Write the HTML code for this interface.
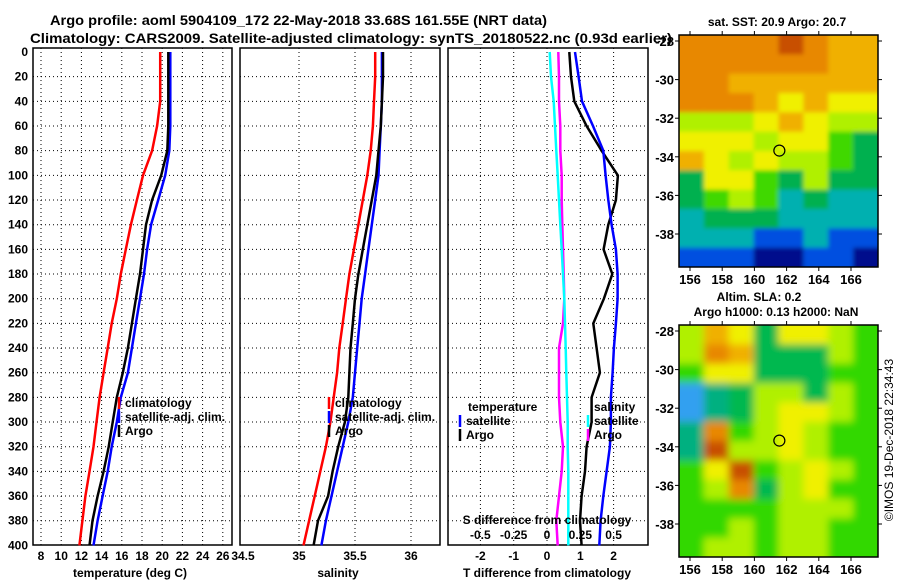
<!DOCTYPE html>
<html><head><meta charset="utf-8">
<style>
body{margin:0;background:#fff;}
svg{display:block;font-family:"Liberation Sans",sans-serif;font-weight:bold;}
</style></head>
<body>
<svg id="chart" width="900" height="580" viewBox="0 0 900 580">
<defs>
<filter id="blurS" x="-5%" y="-5%" width="110%" height="110%"><feGaussianBlur stdDeviation="2"/></filter>
<filter id="blurL" x="-5%" y="-5%" width="110%" height="110%"><feGaussianBlur stdDeviation="4"/></filter>
<clipPath id="clipTop"><rect x="679" y="35" width="199" height="232"/></clipPath>
<clipPath id="clipBot"><rect x="679" y="325" width="199" height="232"/></clipPath>
</defs>
<text x="50" y="25" font-size="13.5" textLength="497" lengthAdjust="spacingAndGlyphs">Argo profile: aoml 5904109_172 22-May-2018 33.68S 161.55E (NRT data)</text>
<text x="30" y="43" font-size="13.5" textLength="642" lengthAdjust="spacingAndGlyphs">Climatology: CARS2009. Satellite-adjusted climatology: synTS_20180522.nc (0.93d earlier)</text>
<g id="plots"></g>
<text x="777" y="26" font-size="12" text-anchor="middle">sat. SST: 20.9 Argo: 20.7</text>
<text x="759" y="301" font-size="12" text-anchor="middle">Altim. SLA: 0.2</text>
<text x="776" y="316" font-size="12" text-anchor="middle">Argo h1000: 0.13 h2000: NaN</text>
<text transform="translate(893,440) rotate(-90)" font-size="12" font-weight="normal" text-anchor="middle">©IMOS 19-Dec-2018 22:34:43</text>
</svg>
<script>
const depths=[0,20,40,60,80,100,120,140,160,180,200,220,240,260,280,300,320,340,360,380,400];
const tempClim=[19.8,19.8,19.8,19.5,19.0,18.1,17.5,16.9,16.4,15.9,15.5,15.0,14.6,14.2,13.8,13.5,13.2,12.8,12.4,12.1,11.8];
const tempSat=[20.8,20.8,20.8,20.8,20.7,20.3,19.6,18.9,18.5,18.2,17.8,17.4,17.0,16.6,15.9,15.5,15.0,14.6,14.1,13.6,13.2];
const tempArgo=[20.6,20.6,20.6,20.6,20.5,19.9,19.0,18.4,18.1,17.8,17.4,17.0,16.6,16.1,15.5,15.1,14.7,14.2,13.6,13.1,12.8];
const salClim=[35.68,35.68,35.67,35.66,35.64,35.61,35.57,35.53,35.49,35.45,35.42,35.39,35.36,35.34,35.31,35.28,35.24,35.19,35.14,35.09,35.04];
const salSat=[35.74,35.74,35.74,35.73,35.72,35.71,35.68,35.65,35.62,35.59,35.56,35.54,35.52,35.50,35.48,35.44,35.39,35.34,35.29,35.24,35.20];
const salArgo=[35.75,35.75,35.74,35.73,35.71,35.69,35.65,35.61,35.57,35.53,35.50,35.48,35.46,35.45,35.44,35.41,35.35,35.30,35.26,35.17,35.13];
const tDiffSat=[0.84,0.95,1.05,1.38,1.69,1.76,1.84,1.94,2.07,2.12,2.12,2.07,2.01,1.97,1.92,1.92,1.89,1.79,1.69,1.61,1.57];
const tDiffArgo=[0.67,0.72,0.82,1.19,1.64,2.13,2.07,1.84,1.70,1.96,1.71,1.39,1.49,1.59,1.34,1.34,1.19,1.14,1.04,0.99,1.04];
const sDiffSat=[0.02,0.03,0.05,0.06,0.07,0.08,0.09,0.10,0.11,0.12,0.13,0.135,0.14,0.145,0.15,0.155,0.155,0.16,0.16,0.16,0.16];
const sDiffArgo=[0.085,0.09,0.09,0.10,0.10,0.11,0.11,0.115,0.12,0.125,0.13,0.12,0.09,0.09,0.09,0.10,0.12,0.11,0.09,0.07,0.08];
const depthTicks=[0,20,40,60,80,100,120,140,160,180,200,220,240,260,280,300,320,340,360,380,400];
const tempTicks=[8,10,12,14,16,18,20,22,24,26];
const salTicks=[34.5,35,35.5,36];
const tDiffTicks=[-2,-1,0,1,2];
const sDiffTicks=[-0.5,-0.25,0,0.25,0.5];
const sstGrid=[
[8,8,8,8,9,8,7,7],[8,8,8,8,8,8,7,7],[8,8,7,7,7,7,7,7],[8,8,8,7,6,7,6,6],
[5,5,5,6,7,6,5,5],[6,6,6,5,6,6,4,3],[7,6,5,6,5,5,4,3],[3,6,6,4,3,5,3,3],
[3,4,5,4,2,3,2,2],[2,3,3,3,2,2,2,2],[2,2,2,1,1,2,1,1],[1,1,1,0,0,1,1,0]];
const slaGrid=[
[5,7,6,3,6,6,5,4],[5,8,7,3,3,3,5,4],[4,6,6,3,3,3,4,4],[1,2,3,5,5,3,5,4],
[1,2,3,5,6,6,5,4],[2,8,4,5,6,5,4,4],[2,9,5,5,6,5,4,4],[4,6,9,4,5,6,5,4],
[4,5,8,3,5,6,4,4],[4,4,4,4,5,5,5,4],[4,4,5,4,5,5,4,4],[4,5,5,4,5,5,4,4]];
const lonTicks=[156,158,160,162,164,166];
const latTicks=[-28,-30,-32,-34,-36,-38];
const argoLon=161.55, argoLat=-33.68;

const NS="http://www.w3.org/2000/svg";
const root=document.getElementById('plots');
function mk(tag,attrs,parent){const e=document.createElementNS(NS,tag);for(const k in attrs)e.setAttribute(k,attrs[k]);(parent||root).appendChild(e);return e;}
const yD=d=>52+d*1.2335;
const PT=48,PB=545;

function panel(name,L,R,xf,gridTicks){
  const g=mk('g',{});
  
  
  gridTicks.forEach(t=>{const l=mk('line',{x1:xf(t),x2:xf(t),y1:PT,y2:PB,stroke:'#000','stroke-width':1,'stroke-dasharray':'1,3'},g);
    
    });
  depthTicks.forEach(d=>{if(d===0||d===400)return;const l=mk('line',{x1:L,x2:R,y1:yD(d),y2:yD(d),stroke:'#000','stroke-width':1,'stroke-dasharray':'1,3'},g);
    
    });
  const r=mk('rect',{x:L,y:PT,width:R-L,height:PB-PT,fill:'none',stroke:'#000','stroke-width':1.5},g);
  
  
  return g;
}
function line(g,vals,xf,col,name){
  const pts=vals.map((v,i)=>xf(v).toFixed(1)+','+yD(depths[i]).toFixed(1)).join(' ');
  const p=mk('polyline',{points:pts,fill:'none',stroke:col,'stroke-width':2.5},g);
  
  
}
function txt(s,x,y,anchor,size,name,parent){const t=mk('text',{x:x,y:y,'text-anchor':anchor||'start','font-size':size||12},parent);t.textContent=s;
  
  return t;}

depthTicks.forEach(d=>txt(String(d),28,yD(d)+4,'end',12,'depth-tick-label'));

const xT=t=>41+(t-8)*10.1;
const g1=panel('temperature-panel',33,232,xT,tempTicks);
line(g1,tempClim,xT,'#f00','temp-climatology-line');
line(g1,tempSat,xT,'#00f','temp-satellite-line');
line(g1,tempArgo,xT,'#000','temp-argo-line');
tempTicks.forEach(t=>txt(String(t),xT(t),560,'middle',12,'temp-tick-label'));
txt('temperature (deg C)',130,577,'middle',12,'temp-axis-title');

function legend(x,g){
  [['#f00','climatology'],['#00f','satellite-adj. clim.'],['#000','Argo']].forEach((e,i)=>{
    const y=407+i*14;
    const m=mk('line',{x1:x,x2:x,y1:y-10,y2:y+2,stroke:e[0],'stroke-width':2.5},g);
    
    
    txt(e[1],x+6,y,'start',12,'legend-entry',g);
  });
}
legend(119,g1);

const xS=s=>243+(s-34.5)*112;
const g2=panel('salinity-panel',240,440,xS,[35,35.5,36]);
line(g2,salClim,xS,'#f00','sal-climatology-line');
line(g2,salSat,xS,'#00f','sal-satellite-line');
line(g2,salArgo,xS,'#000','sal-argo-line');
salTicks.forEach(t=>txt(String(t),xS(t),560,'middle',12,'sal-tick-label'));
txt('salinity',338,577,'middle',12,'sal-axis-title');
legend(329,g2);

const xTD=t=>547+t*33.3;
const xSD=s=>547+s*133.3;
const g3=panel('difference-panel',448,648,xTD,tDiffTicks);
line(g3,sDiffArgo,xSD,'#f0f','sdiff-argo-line');
line(g3,sDiffSat,xSD,'#0ff','sdiff-satellite-line');
line(g3,tDiffArgo,xTD,'#000','tdiff-argo-line');
line(g3,tDiffSat,xTD,'#00f','tdiff-satellite-line');
tDiffTicks.forEach(t=>txt(String(t),xTD(t),560,'middle',12,'tdiff-tick-label'));
sDiffTicks.forEach(t=>txt(String(t),xSD(t),539,'middle',12,'sdiff-tick-label'));
txt('S difference from climatology',547,524,'middle',12,'sdiff-axis-title',g3);
txt('T difference from climatology',547,577,'middle',12,'tdiff-axis-title');
txt('temperature',468,411,'start',12,'legend-title-temperature',g3);
txt('salinity',594,411,'start',12,'legend-title-salinity',g3);
[['#00f','satellite',460,425],['#000','Argo',460,439],['#0ff','satellite',588,425],['#f0f','Argo',588,439]].forEach(e=>{
  const m=mk('line',{x1:e[2],x2:e[2],y1:e[3]-10,y2:e[3]+2,stroke:e[0],'stroke-width':2.5},g3);
  
  
  txt(e[1],e[2]+6,e[3],'start',12,'legend-entry',g3);
});

const pal=['#00108c','#0050e0','#00b0b0','#00b050','#40d800','#b0f000','#f0f000','#f0b000','#e88800','#c85000'];
const palS=['#00108c','#30a0f0','#00b080','#00b850','#30d800','#b0f000','#f0f000','#f0b000','#e88800','#c85000'];
function map(name,top,grid,colors,clip,filt){
  const L=679,R=878,T=top,B=top+232;
  const lonX=lo=>690+(lo-156)*16.1;
  const latY=la=>T+6+(-28-la)*19.3;
  const g=mk('g',{});
  
  
  const cg=mk('g',{'clip-path':'url(#'+clip+')'},g);
  const fg=mk('g',{filter:'url(#'+filt+')'},cg);
  const rows=grid.length,cols=grid[0].length,cw=(R-L)/cols,ch=(B-T)/rows;
  grid.forEach((row,i)=>row.forEach((v,j)=>{
    const x0=L+j*cw-(j===0?12:0), y0=T+i*ch-(i===0?12:0);
    const w=cw+0.6+(j===0?12:0)+(j===cols-1?12:0), h=ch+0.6+(i===0?12:0)+(i===rows-1?12:0);
    const c=mk('rect',{x:x0.toFixed(2),y:y0.toFixed(2),width:w.toFixed(2),height:h.toFixed(2),fill:colors[v]},fg);
    
    
  }));
  const f=mk('rect',{x:L,y:T,width:R-L,height:B-T,fill:'none',stroke:'#000','stroke-width':1.5},g);
  
  
  lonTicks.forEach(lo=>{mk('line',{x1:lonX(lo),x2:lonX(lo),y1:B,y2:B+4,stroke:'#000'},g);mk('line',{x1:lonX(lo),x2:lonX(lo),y1:T,y2:T-4,stroke:'#000'},g);
    txt(String(lo),lonX(lo),B+17,'middle',13,'lon-tick-label',g);});
  latTicks.forEach(la=>{mk('line',{x1:L-4,x2:L,y1:latY(la),y2:latY(la),stroke:'#000'},g);mk('line',{x1:R,x2:R+4,y1:latY(la),y2:latY(la),stroke:'#000'},g);
    txt(String(la),L-5,latY(la)+5,'end',13,'lat-tick-label',g);});
  const c=mk('circle',{cx:lonX(argoLon),cy:latY(argoLat),r:5.5,fill:'none',stroke:'#000','stroke-width':1.2},g);
  
  
}
map('sst-map',35,sstGrid,pal,'clipTop','blurS');
map('sla-map',325,slaGrid,palS,'clipBot','blurL');
</script>
</body></html>
